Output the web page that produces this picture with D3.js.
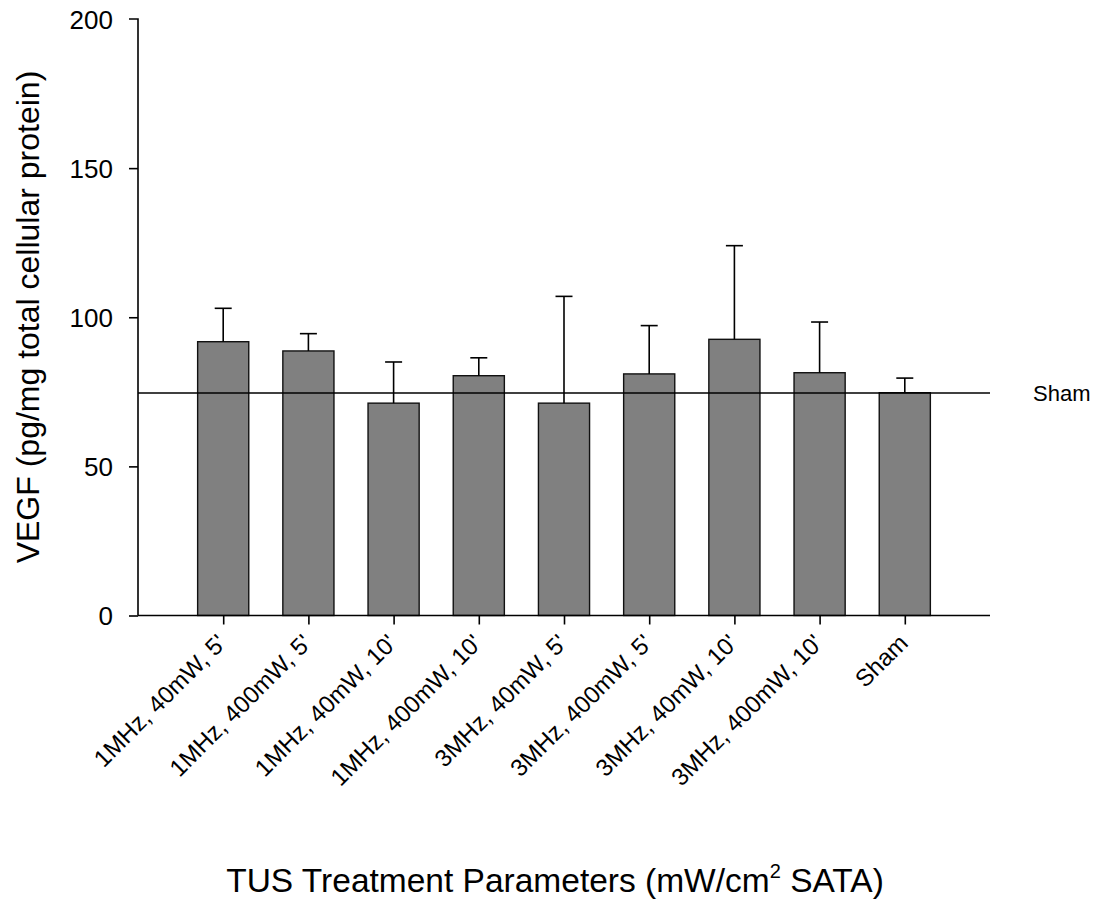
<!DOCTYPE html>
<html><head><meta charset="utf-8">
<script src="https://cdn.jsdelivr.net/npm/d3@7"></script>
<style>body{margin:0;background:#fff}svg{display:block}text{font-family:"Liberation Sans",Arial,sans-serif;fill:#000}</style>
</head><body><svg id="c" width="1102" height="907"></svg>
<script>
const categories = ["1MHz, 40mW, 5'","1MHz, 400mW, 5'","1MHz, 40mW, 10'","1MHz, 400mW, 10'","3MHz, 40mW, 5'","3MHz, 400mW, 5'","3MHz, 40mW, 10'","3MHz, 400mW, 10'","Sham"];
const means = [91.8, 88.7, 71.2, 80.4, 71.2, 81.0, 92.6, 81.4, 74.7];
const errUpper = [103.0, 94.5, 85.0, 86.4, 107.0, 97.2, 124.0, 98.4, 79.6];
const shamLevel = 74.6;
const yTicks = [0, 50, 100, 150, 200];

const FF = "Liberation Sans, Arial, sans-serif";
const svg = d3.select("#c");
const x = d3.scalePoint().domain(categories).range([138, 990]).padding(1);
const y = d3.scaleLinear().domain([0, 200]).range([615.5, 19]);
const bw = x.step() * 0.6;

// bars
svg.append("g").selectAll("rect").data(categories).join("rect")
  .attr("x", (d) => x(d) - bw/2).attr("width", bw)
  .attr("y", (d,i) => y(means[i])).attr("height", (d,i) => y(0) - y(means[i]))
  .attr("fill", "#808080").attr("stroke", "#111").attr("stroke-width", 1.4);

// error bars
const eg = svg.append("g").attr("stroke", "#000").attr("stroke-width", 1.6);
categories.forEach((c, i) => {
  eg.append("line").attr("x1", x(c)).attr("x2", x(c)).attr("y1", y(means[i])).attr("y2", y(errUpper[i]));
  eg.append("line").attr("x1", x(c) - 8.5).attr("x2", x(c) + 8.5).attr("y1", y(errUpper[i])).attr("y2", y(errUpper[i]));
});

// sham reference line
svg.append("line").attr("x1", 138).attr("x2", 990).attr("y1", y(shamLevel)).attr("y2", y(shamLevel))
  .attr("stroke", "#000").attr("stroke-width", 1.5);
svg.append("text").attr("x", 1033).attr("y", y(shamLevel) + 8).attr("font-size", 22).text("Sham");

// y axis
const ya = svg.append("g").attr("transform", "translate(138,0)")
  .call(d3.axisLeft(y).tickValues(yTicks).tickSize(9).tickPadding(16));
ya.select(".domain").attr("stroke-width", 1.6).attr("d", `M-9,${y(200)}H0V${y(0)}`);
ya.selectAll(".tick line").attr("stroke-width", 1.6);
ya.selectAll(".tick text").attr("font-size", 26).attr("font-family", FF).attr("dy", "0.36em");
ya.selectAll(".tick").filter(d => d === 200).select("line").remove();

// x axis
const xa = svg.append("g").attr("transform", `translate(0,${y(0)})`)
  .call(d3.axisBottom(x).tickSize(9));
xa.select(".domain").attr("stroke-width", 1.6).attr("d", `M138,0H990`);
xa.selectAll(".tick line").attr("stroke-width", 1.6);
xa.selectAll(".tick text").attr("font-size", 24).attr("font-family", FF)
  .attr("text-anchor", "end").attr("x", 0).attr("y", 0).attr("dy", "0")
  .attr("transform", "translate(4,29) rotate(-45)");

// axis titles
svg.append("text").attr("transform", "translate(39,317) rotate(-90)").attr("text-anchor", "middle")
  .attr("font-size", 32).text("VEGF (pg/mg total cellular protein)");
const xt = svg.append("text").attr("x", 555).attr("y", 892).attr("text-anchor", "middle").attr("font-size", 33.5);
xt.append("tspan").text("TUS Treatment Parameters (mW/cm");
xt.append("tspan").attr("font-size", 20).attr("dy", -14).text("2");
xt.append("tspan").attr("dy", 14).text(" SATA)");
</script></body></html>
